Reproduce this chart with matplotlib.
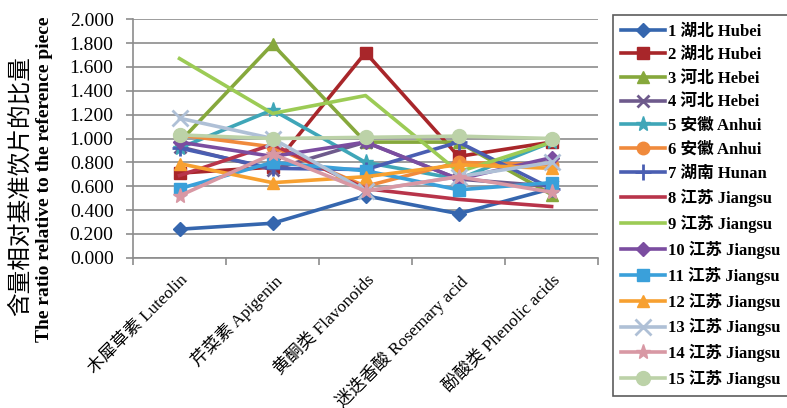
import matplotlib
matplotlib.use("Agg")
import matplotlib.pyplot as plt
import matplotlib.transforms as mtrans
import numpy as np

categories = ["木犀草素 Luteolin", "芹菜素 Apigenin", "黄酮类 Flavonoids",
              "迷迭香酸 Rosemary acid", "酚酸类 Phenolic acids"]
series_names = ["1 湖北 Hubei", "2 湖北 Hubei", "3 河北 Hebei", "4 河北 Hebei",
                "5 安徽 Anhui", "6 安徽 Anhui", "7 湖南 Hunan", "8 江苏 Jiangsu",
                "9 江苏 Jiangsu", "10 江苏 Jiangsu", "11 江苏 Jiangsu",
                "12 江苏 Jiangsu", "13 江苏 Jiangsu", "14 江苏 Jiangsu",
                "15 江苏 Jiangsu"]
s1 = [0.24, 0.29, 0.52, 0.37, 0.58]
s2 = [0.71, 0.76, 1.72, 0.85, 0.97]
s3 = [0.97, 1.79, 0.97, 0.97, 0.53]
s4 = [0.93, 0.74, 0.97, 0.66, 0.60]
s5 = [0.92, 1.24, 0.80, 0.66, 0.97]
s6 = [1.03, 0.93, 0.60, 0.80, 0.78]
s7 = [0.92, 0.75, 0.74, 0.97, 0.58]
s8 = [0.69, 0.95, 0.58, 0.49, 0.43]
s9 = [1.67, 1.21, 1.36, 0.72, 0.97]
s10 = [0.97, 0.85, 0.97, 0.66, 0.84]
s11 = [0.58, 0.80, 0.73, 0.57, 0.63]
s12 = [0.79, 0.63, 0.68, 0.78, 0.75]
s13 = [1.17, 1.00, 0.56, 0.68, 0.80]
s14 = [0.52, 0.87, 0.56, 0.68, 0.55]
s15 = [1.03, 1.00, 1.01, 1.02, 1.00]
yticks = [0.0, 0.2, 0.4, 0.6, 0.8, 1.0, 1.2, 1.4, 1.6, 1.8, 2.0]

all_series = [s1, s2, s3, s4, s5, s6, s7, s8, s9, s10, s11, s12, s13, s14, s15]
colors = ["#3566AE", "#A8262A", "#86A83C", "#6E5A8C", "#3FA6B8", "#F08A3C",
          "#4A5EB2", "#B8344A", "#9CCB55", "#7B4DA0", "#3AA0DA", "#F7A030",
          "#AFC0D6", "#D898A4", "#BCD2A8"]
markers = ["D", "s", "^", "x", "*", "o", "+", None, None, "D", "s", "^", "x", "*", "o"]
msizes = [7, 9, 9, 9, 11, 9, 11, 0, 0, 7, 9, 9, 11, 11, 10]

fam = ["Liberation Serif", "Noto Sans CJK SC"]
plt.rcParams["font.family"] = fam

fig = plt.figure(figsize=(7.87, 4.08), dpi=100)
ax = fig.add_axes([0.169, 0.368, 0.591, 0.585])

x = np.arange(len(categories))
for vals, name, c, m, ms in zip(all_series, series_names, colors, markers, msizes):
    ax.plot(x, vals, color=c, lw=2.6, marker=m, markersize=ms,
            markeredgewidth=2 if m in ("x", "+") else 1, markeredgecolor=c,
            markerfacecolor=c, label=name)

ax.set_xlim(-0.5, len(categories) - 0.5)
ax.set_ylim(0, 2.0)
ax.set_yticks(yticks)
ax.set_yticklabels([f"{v:.3f}" for v in yticks], fontsize=14)
ax.yaxis.grid(True, color="#8c8c8c", lw=1.2)
ax.set_axisbelow(True)
ax.set_xticks(x)
ax.set_xticklabels(categories, rotation=45, ha="right", rotation_mode="anchor",
                   fontsize=12.5)
offset = mtrans.ScaledTranslation(12 / 100, 5 / 100, fig.dpi_scale_trans)
for lab in ax.get_xticklabels():
    lab.set_transform(lab.get_transform() + offset)
ax.set_xticks(np.arange(-0.5, len(categories)), minor=True)
ax.tick_params(axis="x", which="major", length=0, pad=10)
ax.tick_params(axis="x", which="minor", length=5, color="#8c8c8c", width=1.2)
ax.tick_params(axis="y", length=5, color="#8c8c8c", width=1.2, pad=9)
for sp in ["top", "right"]:
    ax.spines[sp].set_visible(False)
for sp in ["left", "bottom"]:
    ax.spines[sp].set_color("#8c8c8c")
    ax.spines[sp].set_linewidth(1.2)

fig.text(0.026, 0.545, "含量相对基准饮片的比量", rotation=90, ha="center", va="center",
         fontsize=17)
fig.text(0.057, 0.56, "The ratio relative to the reference piece", rotation=90,
         ha="center", va="center", fontsize=14, fontweight="bold")

leg = fig.legend(loc="upper left", bbox_to_anchor=(0.779, 0.963),
                 frameon=True, handlelength=2.6, labelspacing=0.46,
                 borderpad=0.5, handletextpad=0.2, borderaxespad=0,
                 prop={"weight": "bold", "size": 12, "family": fam})
leg.get_frame().set_edgecolor("#333333")
leg.get_frame().set_linewidth(1.2)
leg.get_frame().set_boxstyle("square", pad=0)

fig.savefig("out.png", dpi=100)
